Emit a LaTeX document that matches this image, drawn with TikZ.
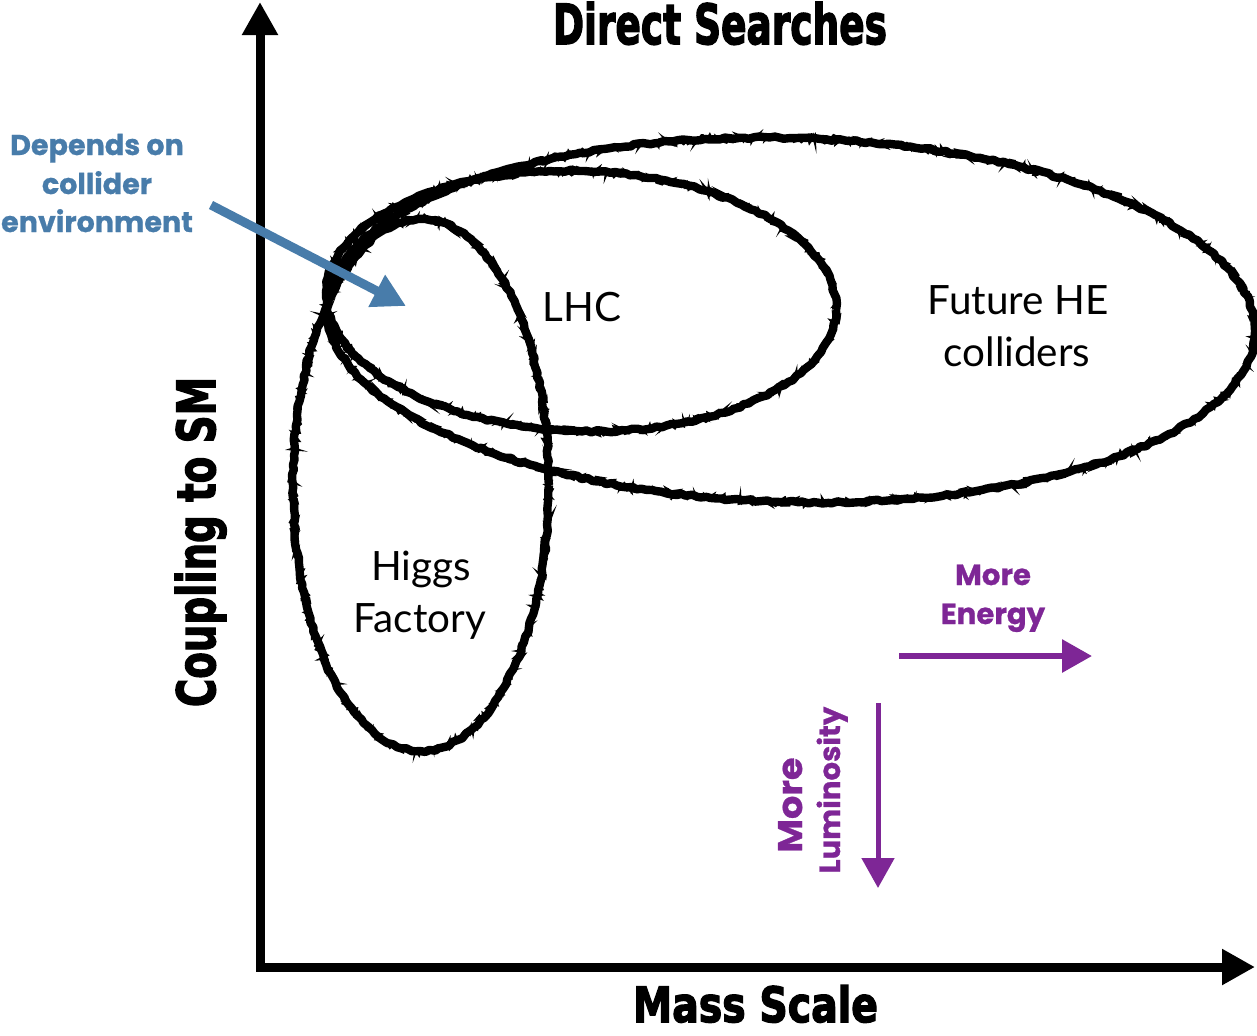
\documentclass[tikz,border=0pt]{standalone}
\usepackage{graphicx}
\usepackage{fontspec}
\setmainfont{Lato}
\newfontfamily\popfont{Poppins}[BoldFeatures={FakeBold=0.8}]
\newfontfamily\headfont{DejaVu Sans}[BoldFeatures={FakeBold=3}]
\usetikzlibrary{arrows.meta,decorations.pathmorphing}
\definecolor{lblue}{RGB}{72,124,170}
\definecolor{lpurple}{RGB}{126,38,150}
\begin{document}
\begin{tikzpicture}[x=0.5pt,y=-0.5pt,
  axisline/.style={line width=4.5pt, line join=miter,
    {Triangle[length=16.5pt,width=17pt]}-{Triangle[length=16.5pt,width=17pt]}},
  headtext/.style={font=\headfont\bfseries, inner sep=0pt, anchor=base},
  lbl/.style={font=\fontsize{20.2}{24}\selectfont, inner sep=0pt, anchor=base},
  bluetxt/.style={font=\popfont\bfseries\fontsize{14.3}{18}\selectfont, text=lblue, inner sep=0pt, anchor=base},
  purptxt/.style={font=\popfont\bfseries\fontsize{14.6}{18}\selectfont, text=lpurple, inner sep=0pt, anchor=base},
  chalk/.style={draw=black, line width=4.2pt, line join=round, decorate,
    decoration={random steps, segment length=2.5pt, amplitude=0.6pt}},
  chalkfuzz/.style={draw=black, line width=1.1pt, decorate,
    decoration={random steps, segment length=1.2pt, amplitude=2.3pt}},
  bluearrow/.style={draw=lblue, line width=4.5pt, -{Triangle[length=16.5pt,width=17pt]}},
  parrow/.style={draw=lpurple, -{Triangle[length=15pt,width=16pt]}}
]
\pgfmathsetseed{7}
\useasboundingbox (0,0) rectangle (1257,1035);

% axes
\coordinate (O) at (260,967);
\coordinate (ytip) at (260,2);
\coordinate (xtip) at (1255,967);
\draw[axisline] (ytip) -- (O) -- (xtip);

% axis titles
\node[headtext] (title) at (720,44) {\resizebox{167pt}{21pt}{Direct Searches}};
\node[headtext] (xlabel) at (755.5,1022) {\resizebox{122.5pt}{18.5pt}{Mass Scale}};
\node[headtext, rotate=90] (ylabel) at (215,542) {\resizebox{165pt}{20pt}{Coupling to SM}};

% ellipses (hand drawn look)
\foreach \s in {chalk,chalkfuzz}{
  \draw[\s, rotate around={-1.5:(791,320)}] (791,320) ellipse [x radius=464, y radius=182];
  \draw[\s, rotate around={-2:(581,301)}] (581,301) ellipse [x radius=255, y radius=130];
  \draw[\s] (421,485) ellipse [x radius=128, y radius=266];
}

% labels
\node[lbl] (lhc) at (582,321) {LHC};
\node[lbl] (fut1) at (1018,314) {Future HE};
\node[lbl] (fut2) at (1017,366) {colliders};
\node[lbl] (hig1) at (421,580) {Higgs};
\node[lbl] (hig2) at (420,632) {Factory};

% blue annotation
\node[bluetxt] (dep1) at (97,155) {Depends on};
\node[bluetxt] (dep2) at (97,194) {collider};
\node[bluetxt] (dep3) at (97,232) {environment};
\coordinate (bstart) at (211,205);
\coordinate (btip) at (406,306);
\draw[bluearrow] (bstart) -- (btip);

% purple annotations
\node[purptxt] (me1) at (993,585) {More};
\node[purptxt] (me2) at (993,624) {Energy};
\node[purptxt, rotate=90] (ml1) at (802,805) {\resizebox{47.5pt}{12pt}{More}};
\node[purptxt, rotate=90] (ml2) at (840,790) {Luminosity};
\coordinate (eA) at (899,656);
\coordinate (eB) at (1092,656);
\draw[parrow, line width=3pt] (eA) -- (eB);
\coordinate (lA) at (878,703);
\coordinate (lB) at (878,888);
\draw[parrow, line width=2.5pt] (lA) -- (lB);
\end{tikzpicture}
\end{document}
